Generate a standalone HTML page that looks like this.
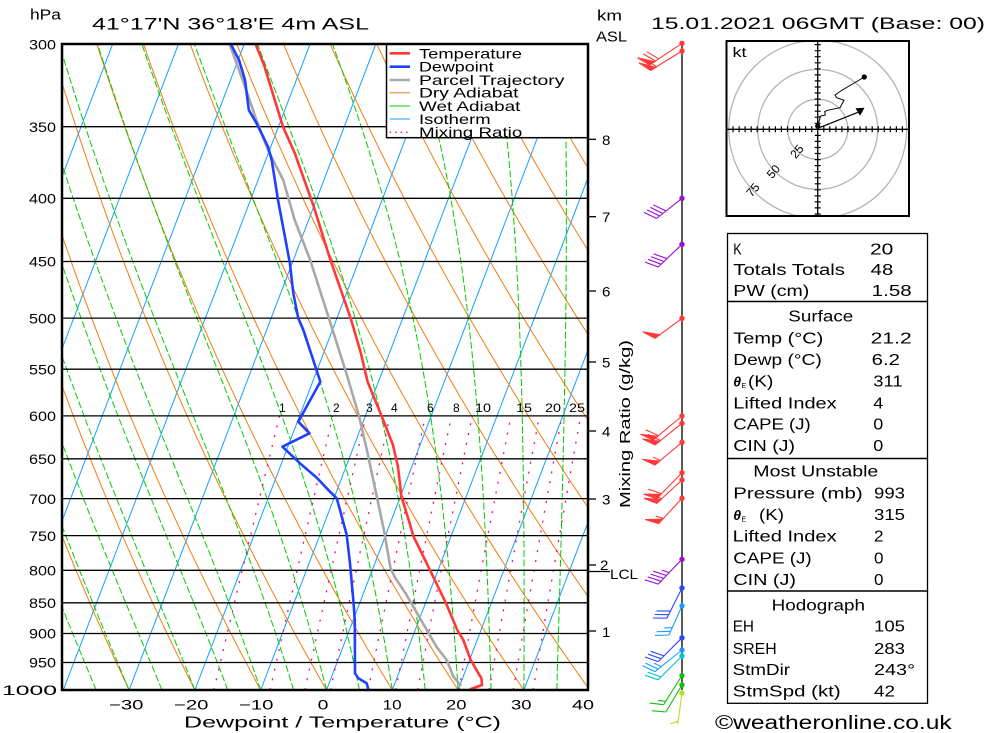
<!DOCTYPE html>
<html><head><meta charset="utf-8">
<style>
html,body{margin:0;padding:0;background:#fff;}
svg{display:block;}
text{font-family:"Liberation Sans",sans-serif;fill:#000;}
</style></head>
<body>
<svg id="s" width="1000" height="733" viewBox="0 0 1000 733" xmlns="http://www.w3.org/2000/svg">
<defs>
<clipPath id="pc"><rect x="62" y="44" width="526" height="646"/></clipPath>
<clipPath id="hc"><rect x="726" y="41" width="183" height="175"/></clipPath>
</defs>
<rect x="0" y="0" width="1000" height="733" fill="#fff"/>
<g id="grid" clip-path="url(#pc)"></g>
<g clip-path="url(#pc)" fill="none" stroke-linejoin="round">
<polyline stroke="#a8a8a8" stroke-width="2.6" points="229.6,44 245,86.7 256.4,120 268,150 283.2,180 294.7,220 310.2,260 330.5,323.3 347.4,376.7 359.2,416.7 367.6,453.3 376.1,493.3 383.9,530 390.5,568 394.5,576.7 406,594 421,620 436.5,646.7 446.7,660 453.5,676.7 461,686"/>
<polyline stroke="#2040ff" stroke-width="2.6" points="230.8,44 239,60 245,80 248.8,110 256.4,123 268,146.7 271.7,160 277.5,196.7 278,200 289.9,263.3 293.3,293.3 298.3,318.3 303.4,330 320.3,381.7 298.3,421.7 309.5,433.3 282.4,446.7 300,463.3 317,478 330,491.7 336.7,498.3 340,510 346.7,535 350,563.3 353.3,600 354.8,620 355,673.3 358.3,678.3 366.7,683.3 368.5,690"/>
<polyline stroke="#ff3838" stroke-width="2.6" points="255.6,44 264,65 283,126.7 294.7,153 313.8,206.7 330.4,260 350.7,318.3 360.9,353.3 367.6,381.7 381.2,415 393,445 398,467 401.5,497 408.7,520 413.3,536 429,568 446,603.3 457.3,630 463.3,640 470.7,660 478.4,673.3 481.4,678.3 482,685 476.5,687 470,689.3"/>
</g>
<!-- legend -->
<rect x="386.5" y="44" width="201.5" height="93.7" fill="#fff" stroke="#000" stroke-width="1.5"/>
<line x1="389.6" y1="53.3" x2="410" y2="53.3" stroke="#ff3838" stroke-width="2.6"/>
<line x1="389.6" y1="66.7" x2="410" y2="66.7" stroke="#2040ff" stroke-width="2.6"/>
<line x1="389.6" y1="80" x2="410" y2="80" stroke="#a8a8a8" stroke-width="2.6"/>
<line x1="389.6" y1="92.7" x2="410" y2="92.7" stroke="#f07d10" stroke-width="1"/>
<line x1="389.6" y1="106" x2="410" y2="106" stroke="#00cc00" stroke-width="1"/>
<line x1="389.6" y1="119" x2="410" y2="119" stroke="#12a0ff" stroke-width="1"/>
<line x1="389.6" y1="132.3" x2="410" y2="132.3" stroke="#ff0088" stroke-width="1.3" stroke-dasharray="1.5 4"/>
<g font-size="14">
<text x="419" y="58.3" textLength="103" lengthAdjust="spacingAndGlyphs">Temperature</text>
<text x="419" y="71.7" textLength="74.6" lengthAdjust="spacingAndGlyphs">Dewpoint</text>
<text x="419" y="85" textLength="145.4" lengthAdjust="spacingAndGlyphs">Parcel Trajectory</text>
<text x="419" y="97.7" textLength="99.5" lengthAdjust="spacingAndGlyphs">Dry Adiabat</text>
<text x="419" y="111" textLength="101.4" lengthAdjust="spacingAndGlyphs">Wet Adiabat</text>
<text x="419" y="124" textLength="71.6" lengthAdjust="spacingAndGlyphs">Isotherm</text>
<text x="419" y="137" textLength="103.3" lengthAdjust="spacingAndGlyphs">Mixing Ratio</text>
</g>
<!-- mixing ratio labels -->
<g font-size="12" fill="#e8007e">
<text x="279" y="412" fill="#e8007e">1</text>
<text x="333" y="412" fill="#e8007e">2</text>
<text x="366" y="412" fill="#e8007e">3</text>
<text x="391" y="412" fill="#e8007e">4</text>
<text x="427" y="412" fill="#e8007e">6</text>
<text x="453" y="412" fill="#e8007e">8</text>
<text x="475" y="412" fill="#e8007e" textLength="16" lengthAdjust="spacingAndGlyphs">10</text>
<text x="516" y="412" fill="#e8007e" textLength="16" lengthAdjust="spacingAndGlyphs">15</text>
<text x="545" y="412" fill="#e8007e" textLength="16" lengthAdjust="spacingAndGlyphs">20</text>
<text x="569" y="412" fill="#e8007e" textLength="16" lengthAdjust="spacingAndGlyphs">25</text>
</g>
<!-- frame -->
<rect x="62" y="44" width="526" height="646" fill="none" stroke="#000" stroke-width="2.5"/>
<!-- km ticks -->
<g stroke="#000" stroke-width="1.3">
<line x1="588" y1="139.3" x2="596" y2="139.3"/>
<line x1="588" y1="216.7" x2="596" y2="216.7"/>
<line x1="588" y1="291" x2="596" y2="291"/>
<line x1="588" y1="362" x2="596" y2="362"/>
<line x1="588" y1="431" x2="596" y2="431"/>
<line x1="588" y1="499" x2="596" y2="499"/>
<line x1="588" y1="565" x2="596" y2="565"/>
<line x1="588" y1="571.5" x2="610" y2="571.5"/>
<line x1="588" y1="631" x2="596" y2="631"/>
</g>
<g font-size="14">
<text x="602" y="145" textLength="8.4" lengthAdjust="spacingAndGlyphs">8</text>
<text x="602" y="222" textLength="8.4" lengthAdjust="spacingAndGlyphs">7</text>
<text x="602" y="296.5" textLength="8.4" lengthAdjust="spacingAndGlyphs">6</text>
<text x="602" y="367.5" textLength="8.4" lengthAdjust="spacingAndGlyphs">5</text>
<text x="602" y="436.5" textLength="8.4" lengthAdjust="spacingAndGlyphs">4</text>
<text x="602" y="504.5" textLength="8.4" lengthAdjust="spacingAndGlyphs">3</text>
<text x="600" y="570" textLength="8.4" lengthAdjust="spacingAndGlyphs">2</text>
<text x="610" y="579" textLength="28" lengthAdjust="spacingAndGlyphs">LCL</text>
<text x="602" y="637" textLength="8.4" lengthAdjust="spacingAndGlyphs">1</text>
</g>
<text font-size="15" transform="translate(630,424) rotate(-90)" text-anchor="middle" textLength="168" lengthAdjust="spacingAndGlyphs">Mixing Ratio (g/kg)</text>
<!-- pressure labels -->
<g font-size="14">
<text x="29" y="49.3" textLength="27" lengthAdjust="spacingAndGlyphs">300</text>
<text x="29" y="132" textLength="27" lengthAdjust="spacingAndGlyphs">350</text>
<text x="29" y="203.5" textLength="27" lengthAdjust="spacingAndGlyphs">400</text>
<text x="29" y="266.5" textLength="27" lengthAdjust="spacingAndGlyphs">450</text>
<text x="29" y="323.3" textLength="27" lengthAdjust="spacingAndGlyphs">500</text>
<text x="29" y="374.3" textLength="27" lengthAdjust="spacingAndGlyphs">550</text>
<text x="29" y="421" textLength="27" lengthAdjust="spacingAndGlyphs">600</text>
<text x="29" y="464" textLength="27" lengthAdjust="spacingAndGlyphs">650</text>
<text x="29" y="503.8" textLength="27" lengthAdjust="spacingAndGlyphs">700</text>
<text x="29" y="540.8" textLength="27" lengthAdjust="spacingAndGlyphs">750</text>
<text x="29" y="575.5" textLength="27" lengthAdjust="spacingAndGlyphs">800</text>
<text x="29" y="608" textLength="27" lengthAdjust="spacingAndGlyphs">850</text>
<text x="29" y="638.7" textLength="27" lengthAdjust="spacingAndGlyphs">900</text>
<text x="29" y="667.7" textLength="27" lengthAdjust="spacingAndGlyphs">950</text>
<text x="2" y="695.2" textLength="55" lengthAdjust="spacingAndGlyphs">1000</text>
</g>
<!-- x labels -->
<g font-size="14">
<text x="109" y="709.3" textLength="34.5" lengthAdjust="spacingAndGlyphs">−30</text>
<text x="174" y="709.3" textLength="34.5" lengthAdjust="spacingAndGlyphs">−20</text>
<text x="239" y="709.3" textLength="34.5" lengthAdjust="spacingAndGlyphs">−10</text>
<text x="317.6" y="709.3" textLength="10.8" lengthAdjust="spacingAndGlyphs">0</text>
<text x="382.7" y="709.3" textLength="19" lengthAdjust="spacingAndGlyphs">10</text>
<text x="446" y="709.3" textLength="20.5" lengthAdjust="spacingAndGlyphs">20</text>
<text x="511" y="709.3" textLength="20.5" lengthAdjust="spacingAndGlyphs">30</text>
<text x="572" y="709.3" textLength="22" lengthAdjust="spacingAndGlyphs">40</text>
</g>
<text x="184" y="727.3" font-size="16" textLength="317" lengthAdjust="spacingAndGlyphs">Dewpoint / Temperature (°C)</text>
<!-- titles -->
<text x="30" y="19.7" font-size="15" textLength="31" lengthAdjust="spacingAndGlyphs">hPa</text>
<text x="92" y="29.3" font-size="17" textLength="277" lengthAdjust="spacingAndGlyphs">41°17'N 36°18'E 4m ASL</text>
<text x="597" y="20.5" font-size="15" textLength="25" lengthAdjust="spacingAndGlyphs">km</text>
<text x="596" y="41.5" font-size="15" textLength="31" lengthAdjust="spacingAndGlyphs">ASL</text>
<text x="651" y="29" font-size="17" textLength="334" lengthAdjust="spacingAndGlyphs">15.01.2021 06GMT (Base: 00)</text>
<!-- wind barbs -->
<line x1="682" y1="44" x2="682" y2="690" stroke="#000" stroke-width="1.3"/>
<g id="wb"></g>
<!-- hodograph -->
<g clip-path="url(#hc)" fill="none" stroke="#b4b4b4" stroke-width="1.3">
<circle cx="817.7" cy="129.3" r="30"/>
<circle cx="817.7" cy="129.3" r="60"/>
<circle cx="817.7" cy="129.3" r="89"/>
</g>
<g font-size="12" fill="#b4b4b4">
<text x="797" y="155.5" fill="#b4b4b4" text-anchor="middle" transform="rotate(-50 797 151.5)">25</text>
<text x="773.5" y="175.5" fill="#b4b4b4" text-anchor="middle" transform="rotate(-50 773.5 171.5)">50</text>
<text x="753" y="194" fill="#b4b4b4" text-anchor="middle" transform="rotate(-50 753 190)">75</text>
</g>
<g stroke="#000" stroke-width="1.3">
<line x1="726" y1="129.3" x2="909" y2="129.3"/>
<line x1="817.7" y1="41" x2="817.7" y2="216"/>
</g>
<g id="ht"></g>
<polyline fill="none" stroke="#000" stroke-width="1" points="817.7,125.7 820,118.3 820,116.3 825.3,115 824.7,111.7 827.3,110.3 840,107.7 844,100.3 836.7,97.7 835,95 840.7,91 864.3,77"/>
<line x1="817.7" y1="128.3" x2="858" y2="112.3" stroke="#000" stroke-width="1.2"/>
<polygon points="855.5,108.3 864.5,107.8 860,115.8" fill="#000"/>
<circle cx="817.7" cy="126" r="2.6" fill="#000"/>
<circle cx="864.3" cy="77" r="2.6" fill="#000"/>
<text x="732.5" y="57" font-size="14" textLength="14" lengthAdjust="spacingAndGlyphs">kt</text>
<rect x="726.5" y="41" width="182.5" height="175" fill="none" stroke="#000" stroke-width="2"/>
<!-- table -->
<g fill="none" stroke="#000" stroke-width="1.3">
<rect x="727.5" y="233.5" width="200" height="68"/>
<rect x="727.5" y="301.5" width="200" height="157"/>
<rect x="727.5" y="458.5" width="200" height="132.5"/>
<rect x="727.5" y="591" width="200" height="112.3"/>
</g>
<g font-size="15.5">
<text x="733.3" y="254.3" textLength="8.4" lengthAdjust="spacingAndGlyphs">K</text>
<text x="870" y="254.3" textLength="23.3" lengthAdjust="spacingAndGlyphs">20</text>
<text x="733.3" y="275" textLength="111.7" lengthAdjust="spacingAndGlyphs">Totals Totals</text>
<text x="870.7" y="275" textLength="22.6" lengthAdjust="spacingAndGlyphs">48</text>
<text x="733.3" y="296" textLength="76" lengthAdjust="spacingAndGlyphs">PW (cm)</text>
<text x="871.7" y="296" textLength="40" lengthAdjust="spacingAndGlyphs">1.58</text>
<text x="788.3" y="321.7" textLength="65" lengthAdjust="spacingAndGlyphs">Surface</text>
<text x="733.3" y="343.3" textLength="90" lengthAdjust="spacingAndGlyphs">Temp (°C)</text>
<text x="870.7" y="343.3" textLength="41" lengthAdjust="spacingAndGlyphs">21.2</text>
<text x="733.3" y="365" textLength="88.4" lengthAdjust="spacingAndGlyphs">Dewp (°C)</text>
<text x="871.7" y="365" textLength="28.3" lengthAdjust="spacingAndGlyphs">6.2</text>
<text x="733.3" y="386.7" font-weight="bold" font-style="italic" font-size="14">θ</text>
<text x="741.5" y="388" font-size="7">E</text>
<text x="748" y="386.7" textLength="25.3" lengthAdjust="spacingAndGlyphs">(K)</text>
<text x="873.3" y="386.7" textLength="29.4" lengthAdjust="spacingAndGlyphs">311</text>
<text x="733.3" y="408.3" textLength="103.4" lengthAdjust="spacingAndGlyphs">Lifted Index</text>
<text x="873.3" y="408.3" textLength="10" lengthAdjust="spacingAndGlyphs">4</text>
<text x="733.3" y="429.3" textLength="77.4" lengthAdjust="spacingAndGlyphs">CAPE (J)</text>
<text x="873.3" y="429.3" textLength="10" lengthAdjust="spacingAndGlyphs">0</text>
<text x="733.3" y="451" textLength="61.7" lengthAdjust="spacingAndGlyphs">CIN (J)</text>
<text x="873.3" y="451" textLength="10" lengthAdjust="spacingAndGlyphs">0</text>
<text x="753.3" y="476.7" textLength="125" lengthAdjust="spacingAndGlyphs">Most Unstable</text>
<text x="733.3" y="498.3" textLength="129.4" lengthAdjust="spacingAndGlyphs">Pressure (mb)</text>
<text x="874" y="498.3" textLength="31" lengthAdjust="spacingAndGlyphs">993</text>
<text x="733.3" y="520" font-weight="bold" font-style="italic" font-size="14">θ</text>
<text x="741.5" y="521.5" font-size="7">E</text>
<text x="759" y="520" textLength="25" lengthAdjust="spacingAndGlyphs">(K)</text>
<text x="874" y="520" textLength="31" lengthAdjust="spacingAndGlyphs">315</text>
<text x="732.7" y="541.7" textLength="104" lengthAdjust="spacingAndGlyphs">Lifted Index</text>
<text x="874" y="541.7" textLength="9.5" lengthAdjust="spacingAndGlyphs">2</text>
<text x="733.3" y="563.3" textLength="78.4" lengthAdjust="spacingAndGlyphs">CAPE (J)</text>
<text x="874" y="563.3" textLength="9.5" lengthAdjust="spacingAndGlyphs">0</text>
<text x="733.3" y="585" textLength="62.7" lengthAdjust="spacingAndGlyphs">CIN (J)</text>
<text x="874" y="585" textLength="9.5" lengthAdjust="spacingAndGlyphs">0</text>
<text x="771.7" y="610.7" textLength="93.3" lengthAdjust="spacingAndGlyphs">Hodograph</text>
<text x="732.7" y="631.7" textLength="21.3" lengthAdjust="spacingAndGlyphs">EH</text>
<text x="874" y="631.7" textLength="31" lengthAdjust="spacingAndGlyphs">105</text>
<text x="732.7" y="654" textLength="44" lengthAdjust="spacingAndGlyphs">SREH</text>
<text x="874" y="654" textLength="31" lengthAdjust="spacingAndGlyphs">283</text>
<text x="732.7" y="675" textLength="57.3" lengthAdjust="spacingAndGlyphs">StmDir</text>
<text x="874" y="675" textLength="41" lengthAdjust="spacingAndGlyphs">243°</text>
<text x="732.7" y="696.7" textLength="108" lengthAdjust="spacingAndGlyphs">StmSpd (kt)</text>
<text x="874" y="696.7" textLength="21" lengthAdjust="spacingAndGlyphs">42</text>
</g>
<text x="715" y="729" font-size="19" textLength="236.7" lengthAdjust="spacingAndGlyphs">©weatheronline.co.uk</text>
</svg>
<script>
(function(){
var NS="http://www.w3.org/2000/svg";
var X0=326.5,DX=6.58,S=0.382;
function Y(p){return 690-536.6*Math.log(1000/p);}
function X(T,p){return X0+DX*T+S*(690-Y(p));}
var g=document.getElementById('grid');
function path(parent,d,attrs){var e=document.createElementNS(NS,'path');e.setAttribute('d',d);for(var k in attrs)e.setAttribute(k,attrs[k]);parent.appendChild(e);}
function f(v){return v.toFixed(1);}
var d='',T,p,first;
for(T=-120;T<=40;T+=10){d+='M'+f(X(T,1000))+' 690L'+f(X(T,300))+' '+f(Y(300));}
path(g,d,{stroke:'#12a0ff','stroke-width':1,fill:'none'});
d='';
for(var th=-40;th<=130;th+=10){first=true;for(p=1000;p>=295;p-=5){T=(th+273.15)*Math.pow(p/1000,0.2857)-273.15;d+=(first?'M':'L')+f(X(T,p))+' '+f(Y(p));first=false;}}
path(g,d,{stroke:'#f07d10','stroke-width':1,fill:'none'});
function es(Tc){return 6.112*Math.exp(17.67*Tc/(Tc+243.5));}
function lapse(T,p){var e=es(T-273.15);var rs=0.622*e/(p-e);return (287.04*T+2.501e6*rs)/(p*(1005.7+2.501e6*2.501e6*rs*0.622/(287.04*T*T)));}
d='';
for(var tw=-45;tw<=35;tw+=5){var TK=tw+273.15;p=1000;d+='M'+f(X(tw,1000))+' 690';
 while(p>296){var h=-4;var k1=lapse(TK,p),k2=lapse(TK+h*k1/2,p+h/2),k3=lapse(TK+h*k2/2,p+h/2),k4=lapse(TK+h*k3,p+h);TK+=h*(k1+2*k2+2*k3+k4)/6;p+=h;d+='L'+f(X(TK-273.15,p))+' '+f(Y(p));}}
path(g,d,{stroke:'#00cc00','stroke-width':1,fill:'none','stroke-dasharray':'7 2.5'});
d='';
var ws=[1,2,3,4,6,8,10,15,20,25,30];
for(var i=0;i<ws.length;i++){var w=ws[i];first=true;for(p=1000;p>=600;p-=10){var e=w*p/(622+w);var l=Math.log(e/6.112);var Td=243.5*l/(17.67-l);d+=(first?'M':'L')+f(X(Td,p))+' '+f(Y(p));first=false;}}
path(g,d,{stroke:'#ff0088','stroke-width':1.3,fill:'none','stroke-dasharray':'2 8'});
d='';
for(p=350;p<=950;p+=50){d+='M62 '+f(Y(p))+'L588 '+f(Y(p));}
path(g,d,{stroke:'#000','stroke-width':1.3,fill:'none'});
var wb=document.getElementById('wb');
var R='#ff3838',P='#9a10d0',B='#2848ff',LB='#1a9cff',C='#10c0d0',G='#10c010',YG='#b8e020';
var barbs=[
[43.3,-30,20,R,1,2,0],[51,-29,18,R,1,1,0],
[198.3,-23.5,18.7,P,0,4,0],[244.3,-22,21,P,0,4,0],
[318.3,-25,18.5,R,1,0,0],
[416,-26.7,22.3,R,1,1,0],[423.3,-25,20,R,1,1,0],[442.3,-25,21,R,1,0,1],
[472.7,-23.4,24,R,1,1,0],[480,-23.4,21.7,R,1,1,0],[498.3,-21.7,23.4,R,1,0,1],
[559.3,-22,23,P,0,4,1],
[588,-14,28,B,0,3,0],[605.8,-12,27,LB,0,2,1],
[637.8,-22,22,B,0,3,0],[650,-25,20,LB,0,2,1],[656,-22,22,C,0,2,0],
[675.5,-17,27,G,0,1,1],[685,-15,25,G,0,1,0],
[693,-4,29,YG,0,0,1]];
for(var j=0;j<barbs.length;j++){
 var b=barbs[j],y=b[0],vx=b[1]*1.08,vy=b[2]*1.08,c=b[3],np=b[4],nf=b[5],nh=b[6];
 var L=Math.sqrt(vx*vx+vy*vy),dx=vx/L,dy=vy/L,bx=682,tx=bx+vx,ty=y+vy;
 var px=-dy,py=dx,ca=Math.cos(0.45),sa=Math.sin(0.45);
 var fx=px*ca+dx*sa,fy=py*ca+dy*sa;
 var s='M'+bx+' '+y+'L'+f(tx)+' '+f(ty),fill='',pos=0,k,ax,ay;
 for(k=0;k<np;k++){ax=tx-dx*pos;ay=ty-dy*pos;var cx=tx-dx*(pos+6),cy=ty-dy*(pos+6);fill+='M'+f(ax)+' '+f(ay)+'L'+f(ax+fx*14)+' '+f(ay+fy*14)+'L'+f(cx)+' '+f(cy)+'Z';pos+=7;}
 for(k=0;k<nf;k++){ax=tx-dx*pos;ay=ty-dy*pos;s+='M'+f(ax)+' '+f(ay)+'l'+f(fx*14)+' '+f(fy*14);pos+=4;}
 for(k=0;k<nh;k++){if(pos==0)pos=3;ax=tx-dx*pos;ay=ty-dy*pos;s+='M'+f(ax)+' '+f(ay)+'l'+f(fx*8)+' '+f(fy*8);pos+=4;}
 path(wb,s,{stroke:c,'stroke-width':1.1,fill:'none'});
 if(fill)path(wb,fill,{stroke:c,'stroke-width':1,fill:c});
 var ci=document.createElementNS(NS,'circle');ci.setAttribute('cx',682);ci.setAttribute('cy',y);ci.setAttribute('r',2.7);ci.setAttribute('fill',c);wb.appendChild(ci);
}
var ht=document.getElementById('ht');d='';
for(var t=-15;t<=15;t++){if(t==0)continue;var xx=817.7+6.05*t;if(xx>727&&xx<908)d+='M'+f(xx)+' 126.3L'+f(xx)+' 132.3';var yy=129.3+6.05*t;if(yy>42&&yy<215)d+='M814.7 '+f(yy)+'L820.7 '+f(yy);}
path(ht,d,{stroke:'#000','stroke-width':1.2,fill:'none'});
})();
</script>
</body></html>
